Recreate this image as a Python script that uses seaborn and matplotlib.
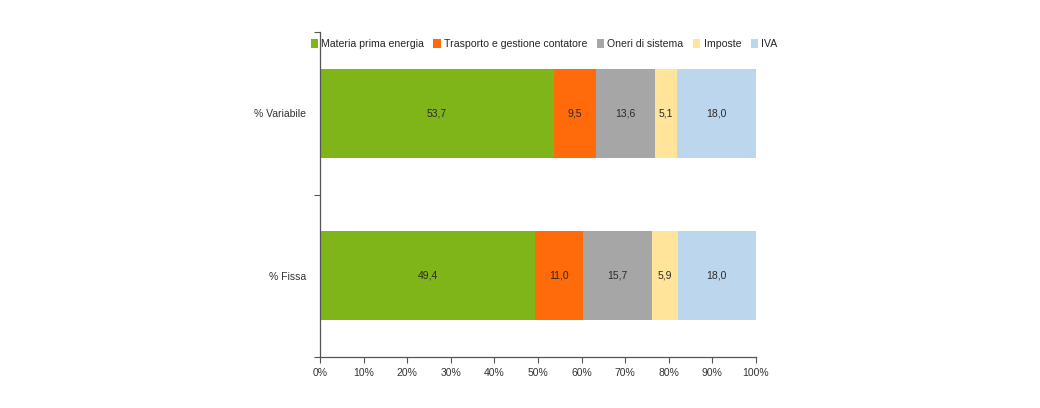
import numpy as np
import pandas as pd
import matplotlib
matplotlib.use("Agg")
import matplotlib.pyplot as plt
import seaborn as sns
from matplotlib.patches import Patch

categorie = ["% Variabile", "% Fissa"]
componenti = ["Materia prima energia", "Trasporto e gestione contatore",
              "Oneri di sistema", "Imposte", "IVA"]
materia = [53.7, 49.4]
trasporto = [9.5, 11.0]
oneri = [13.6, 15.7]
imposte = [5.1, 5.9]
iva = [18.0, 18.0]
colori = ["#80B51A", "#FF6A0A", "#A6A6A6", "#FFE49A", "#BCD6EE"]

sns.set_theme(style="white")
plt.rcParams["font.family"] = ["Liberation Sans", "DejaVu Sans"]

valori = np.array([materia, trasporto, oneri, imposte, iva])
cumul = np.cumsum(valori, axis=0)

fig = plt.figure(figsize=(10.4, 4.08), dpi=100)
ax = fig.add_axes([320 / 1040, 1 - 357 / 408, 436 / 1040, 325 / 408])

# stacked bars: draw cumulative totals from the last component back to the first
for i in range(len(componenti) - 1, -1, -1):
    df = pd.DataFrame({"cat": categorie, "val": cumul[i]})
    sns.barplot(data=df, x="val", y="cat", color=colori[i], width=0.55,
                saturation=1, ax=ax, orient="h", linewidth=0)

for i in range(len(componenti)):
    for j in range(len(categorie)):
        left = cumul[i][j] - valori[i][j]
        ax.text(left + valori[i][j] / 2, j, f"{valori[i][j]:.1f}".replace(".", ","),
                ha="center", va="center", fontsize=7.5, color="#2a2a2a")

ax.set_xlim(0, 100)
ax.set_ylim(1.5, -0.5)
ax.set_xticks(np.arange(0, 101, 10))
ax.set_xticklabels([f"{t}%" for t in range(0, 101, 10)])
ax.set_xlabel("")
ax.set_ylabel("")
ax.set_yticks([-0.5, 0.5, 1.5], minor=True)
ax.tick_params(axis="y", which="major", length=0, labelsize=7.5, pad=10,
               labelcolor="#333333")
ax.tick_params(axis="y", which="minor", length=4, width=0.8, color="#555555",
               direction="out", left=True)
ax.tick_params(axis="x", length=4, width=0.8, color="#555555", direction="out",
               bottom=True, labelsize=7.5, labelcolor="#333333", pad=4)
for s in ["top", "right"]:
    ax.spines[s].set_visible(False)
for s in ["left", "bottom"]:
    ax.spines[s].set_color("#555555")
    ax.spines[s].set_linewidth(0.9)

handles = [Patch(facecolor=c, edgecolor="none") for c in colori]
fig.legend(handles, componenti, loc="center", bbox_to_anchor=(544 / 1040, 1 - 44 / 408),
           ncol=5, frameon=False, fontsize=7.6, handlelength=0.7, handleheight=0.9,
           handletextpad=0.3, columnspacing=0.9)

fig.savefig("out.png", dpi=100, facecolor="white")
